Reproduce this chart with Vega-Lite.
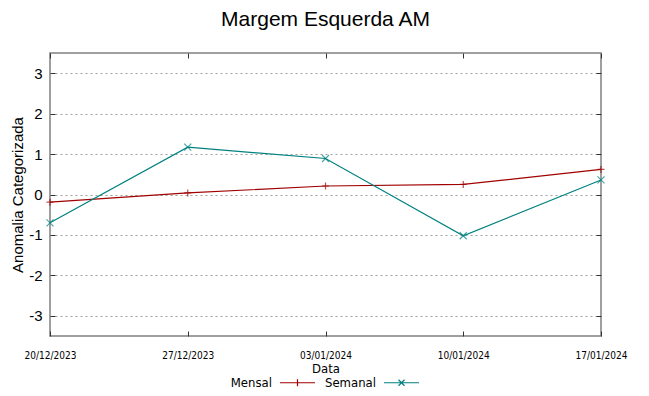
{
  "$schema": "https://vega.github.io/schema/vega-lite/v6.json",
  "width": 551,
  "height": 283,
  "autosize": "none",
  "padding": {"left": 50, "top": 53, "right": 48, "bottom": 60},
  "title": {"text": "Margem Esquerda AM", "font": "Liberation Sans", "fontSize": 21, "fontWeight": "normal", "color": "#000000", "offset": 23, "anchor": "middle"},
  "config": {
    "view": {"stroke": "#808080", "strokeWidth": 1.5},
    "axis": {"domain": false, "tickColor": "#333333", "tickWidth": 1, "labelColor": "#000000", "titleColor": "#000000", "titleFontWeight": "normal"}
  },
  "data": {"values": [
    {"date": "2023-12-20", "serie": "Mensal", "valor": -0.19},
    {"date": "2023-12-27", "serie": "Mensal", "valor": 0.04},
    {"date": "2024-01-03", "serie": "Mensal", "valor": 0.21},
    {"date": "2024-01-10", "serie": "Mensal", "valor": 0.25},
    {"date": "2024-01-17", "serie": "Mensal", "valor": 0.62},
    {"date": "2023-12-20", "serie": "Semanal", "valor": -0.70},
    {"date": "2023-12-27", "serie": "Semanal", "valor": 1.17},
    {"date": "2024-01-03", "serie": "Semanal", "valor": 0.89},
    {"date": "2024-01-10", "serie": "Semanal", "valor": -1.02},
    {"date": "2024-01-17", "serie": "Semanal", "valor": 0.36}
  ]},
  "layer": [
    {
      "mark": {"type": "line", "strokeWidth": 1.2},
      "encoding": {
        "x": {"field": "date", "type": "temporal",
          "scale": {"type": "utc", "domain": [{"year": 2023, "month": 12, "date": 20, "utc": true}, {"year": 2024, "month": 1, "date": 17, "utc": true}]},
          "axis": {"orient": "bottom", "title": "Data", "labelExpr": "utcFormat(datum.value, '%d/%m/%Y')",
            "values": [{"year": 2023, "month": 12, "date": 20, "utc": true}, {"year": 2023, "month": 12, "date": 27, "utc": true}, {"year": 2024, "month": 1, "date": 3, "utc": true}, {"year": 2024, "month": 1, "date": 10, "utc": true}, {"year": 2024, "month": 1, "date": 17, "utc": true}],
            "grid": false, "tickSize": -5, "labelPadding": 19, "labelFont": "DejaVu Sans Condensed, Liberation Sans", "labelFontSize": 10, "labelAngle": 0,
            "titleFont": "DejaVu Sans Condensed, Liberation Sans", "titleFontSize": 13, "titlePadding": 2, "labelFlush": false, "labelOverlap": false}},
        "y": {"field": "valor", "type": "quantitative",
          "scale": {"domain": [-3.5, 3.5], "nice": false, "zero": false},
          "axis": {"orient": "left", "title": "Anomalia Categorizada", "values": [-3, -2, -1, 0, 1, 2, 3], "labelExpr": "'' + datum.value",
            "grid": true, "gridColor": "#a0a0a0", "gridDash": [2, 3], "gridWidth": 1,
            "tickSize": -5, "labelPadding": 13, "labelFont": "Liberation Sans", "labelFontSize": 15,
            "titleFont": "Liberation Sans", "titleFontSize": 15, "titlePadding": 3}},
        "color": {"field": "serie", "type": "nominal",
          "scale": {"domain": ["Mensal", "Semanal"], "range": ["#a00000", "#008080"]},
          "legend": {"orient": "none", "legendX": 239, "legendY": 323, "direction": "horizontal", "title": null,
            "labelFont": "DejaVu Sans Condensed, Liberation Sans", "labelFontSize": 13, "labelColor": "#000000",
            "labelAlign": "right", "labelOffset": -32, "symbolOffset": 2,
            "symbolSize": 100, "symbolStrokeWidth": 1.2, "symbolType": "M-3.5,0L3.5,0",
            "columnPadding": 6,
            "encode": {"symbols": {"update": {"shape": {"signal": "datum.value === 'Mensal' ? 'M-3.5,0L3.5,0M0,-0.7L0,0.7' : 'M-3.5,0L3.5,0M-0.6,-0.6L0.6,0.6M-0.6,0.6L0.6,-0.6'"}, "fill": {"value": "transparent"}}}}}}
      }
    },
    {
      "mark": {"type": "point", "filled": false, "strokeWidth": 1.2, "size": 49},
      "encoding": {
        "x": {"field": "date", "type": "temporal",
          "axis": {"orient": "top", "title": null, "labels": false, "grid": false, "tickSize": -5,
            "values": [{"year": 2023, "month": 12, "date": 20, "utc": true}, {"year": 2023, "month": 12, "date": 27, "utc": true}, {"year": 2024, "month": 1, "date": 3, "utc": true}, {"year": 2024, "month": 1, "date": 10, "utc": true}, {"year": 2024, "month": 1, "date": 17, "utc": true}]}},
        "y": {"field": "valor", "type": "quantitative",
          "axis": {"orient": "right", "title": null, "labels": false, "grid": false, "tickSize": -5, "values": [-3, -2, -1, 0, 1, 2, 3]}},
        "color": {"field": "serie", "type": "nominal", "legend": null},
        "shape": {"condition": {"test": "datum.serie === 'Mensal'", "value": "M0,-1L0,1M-1,0L1,0"}, "value": "M-1,-1L1,1M-1,1L1,-1"}
      }
    }
  ],
  "resolve": {"axis": {"x": "independent", "y": "independent"}}
}
